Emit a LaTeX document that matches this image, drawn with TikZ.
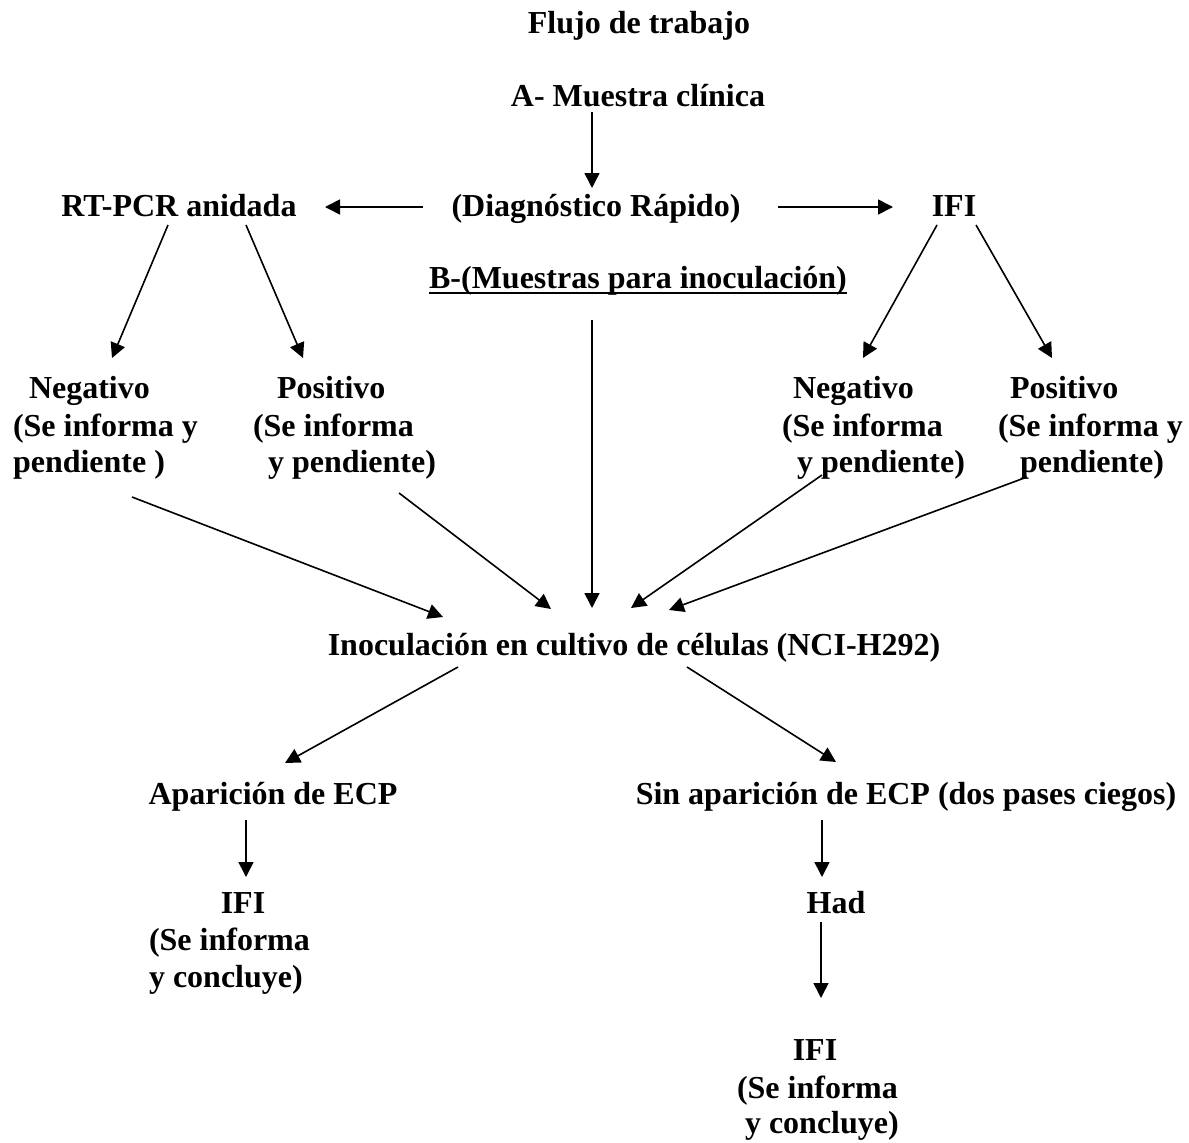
\documentclass[tikz,border=0pt]{standalone}
\usepackage{fontspec}
\setmainfont{Liberation Serif}
\usetikzlibrary{arrows.meta}
\begin{document}
\begin{tikzpicture}[x=1pt,y=-1pt,
  txt/.style={inner sep=0pt,outer sep=0pt,font=\fontsize{32}{37}\selectfont\bfseries},
  ctr/.style={txt,anchor=base},
  lft/.style={txt,anchor=base west},
  arr/.style={line width=1.6pt,-{Triangle[length=15pt,width=15pt]}}]
\useasboundingbox[fill=white] (0,0) rectangle (1189,1143);
% texts
\node[ctr] (title) at (639,33) {Flujo de trabajo};
\node[ctr] (A) at (638,106) {A- Muestra clínica};
\node[ctr] (diag) at (596,216) {(Diagnóstico Rápido)};
\node[ctr] (rt) at (179,216) {RT-PCR anidada};
\node[ctr] (ifi) at (954,216) {IFI};
\node[ctr] (B) at (638,288) {B-(Muestras para inoculación)};
\draw[line width=2.4pt] ([yshift=-5pt]B.base west) -- ([yshift=-5pt]B.base east);
\node[lft] (nL1) at (29,398) {Negativo};
\node[lft] (nL2) at (13,436) {(Se informa y};
\node[lft] (nL3) at (13,472) {pendiente )};
\node[lft] (pL1) at (277,398) {Positivo};
\node[lft] (pL2) at (253,436) {(Se informa};
\node[lft] (pL3) at (268,472) {y pendiente)};
\node[lft] (nR1) at (793,398) {Negativo};
\node[lft] (nR2) at (782,436) {(Se informa};
\node[lft] (nR3) at (797,472) {y pendiente)};
\node[lft] (pR1) at (1010,398) {Positivo};
\node[lft] (pR2) at (998,436) {(Se informa y};
\node[lft] (pR3) at (1020,472) {pendiente)};
\node[ctr] (inoc) at (634,655) {Inoculación en cultivo de células (NCI-H292)};
\node[ctr] (ap) at (273,804) {Aparición de ECP};
\node[ctr] (sin) at (906,804) {Sin aparición de ECP (dos pases ciegos)};
\node[ctr] (ifiA) at (243,913) {IFI};
\node[lft] (ifiA2) at (149,950) {(Se informa};
\node[lft] (ifiA3) at (149,987) {y concluye)};
\node[ctr] (had) at (836,913) {Had};
\node[ctr] (ifiB) at (815,1060) {IFI};
\node[lft] (ifiB2) at (737,1098) {(Se informa};
\node[lft] (ifiB3) at (745,1133) {y concluye)};
% connector end points
\coordinate (Aout) at (592,112);  \coordinate (diagin) at (592,188);
\coordinate (diagL) at (423,207); \coordinate (rtin) at (325,207);
\coordinate (diagR) at (778,207); \coordinate (ifiin) at (893,207);
\coordinate (rtL) at (168,225);   \coordinate (nLin) at (112,358);
\coordinate (rtR) at (246,225);   \coordinate (pLin) at (303,358);
\coordinate (ifiL) at (937,225);  \coordinate (nRin) at (863,358);
\coordinate (ifiR) at (976,225);  \coordinate (pRin) at (1052,358);
\coordinate (nLout) at (132,497); \coordinate (in1) at (443,617);
\coordinate (pLout) at (399,493); \coordinate (in2) at (551,609);
\coordinate (Bout) at (592,320);  \coordinate (in3) at (592,608);
\coordinate (nRout) at (822,475); \coordinate (in4) at (631,608);
\coordinate (pRout) at (1027,477);\coordinate (in5) at (669,610);
\coordinate (inocL) at (458,667); \coordinate (apin) at (285,763);
\coordinate (inocR) at (687,667); \coordinate (sinin) at (836,762);
\coordinate (apout) at (246,820); \coordinate (ifiAin) at (246,877);
\coordinate (sinout) at (822,820);\coordinate (hadin) at (822,877);
\coordinate (hadout) at (821,922);\coordinate (ifiBin) at (821,998);
% connectors
\draw[arr] (Aout) -- (diagin);
\draw[arr] (diagL) -- (rtin);
\draw[arr] (diagR) -- (ifiin);
\draw[arr] (rtL) -- (nLin);
\draw[arr] (rtR) -- (pLin);
\draw[arr] (ifiL) -- (nRin);
\draw[arr] (ifiR) -- (pRin);
\draw[arr] (nLout) -- (in1);
\draw[arr] (pLout) -- (in2);
\draw[arr] (Bout) -- (in3);
\draw[arr] (nRout) -- (in4);
\draw[arr] (pRout) -- (in5);
\draw[arr] (inocL) -- (apin);
\draw[arr] (inocR) -- (sinin);
\draw[arr] (apout) -- (ifiAin);
\draw[arr] (sinout) -- (hadin);
\draw[arr] (hadout) -- (ifiBin);
\end{tikzpicture}
\end{document}
